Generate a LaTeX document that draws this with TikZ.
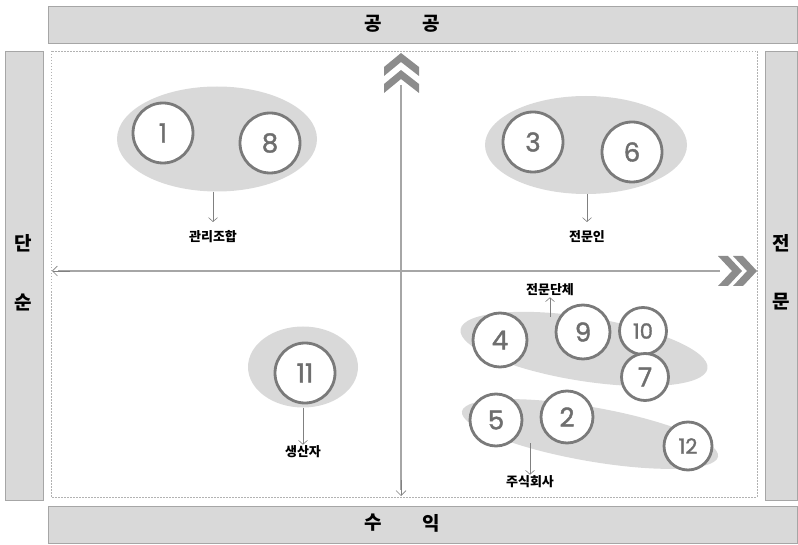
\documentclass[tikz,border=0pt]{standalone}
\usepackage{fontspec}
\setmainfont{Noto Sans CJK KR}
\newfontfamily\numfont{Poppins}[UprightFeatures={FakeBold=1.5}]
\usetikzlibrary{shapes.geometric,arrows.meta}
\definecolor{barfill}{HTML}{D9D9D9}
\definecolor{barline}{HTML}{A6A6A6}
\definecolor{ellfill}{HTML}{D9D9D9}
\definecolor{ringc}{HTML}{7A7A7A}
\definecolor{numc}{HTML}{6E6E6E}
\definecolor{axisc}{HTML}{A6A6A6}
\definecolor{chevc}{HTML}{8C8C8C}
\tikzset{
  bar/.style={fill=barfill,draw=barline,line width=0.8pt},
  bartext/.style={font=\bfseries\fontsize{19}{20}\selectfont,inner sep=0pt},
  group/.style={ellipse,fill=ellfill,draw=none,inner sep=0pt},
  num/.style={circle,fill=white,draw=ringc,line width=2.8pt,text=numc,inner sep=0pt,font=\numfont\fontsize{26}{26}\selectfont},
  numsmall/.style={font=\numfont\fontsize{21}{21}\selectfont},
  lbl/.style={font=\bfseries\fontsize{13}{13}\selectfont,inner sep=1pt},
  thin/.style={draw=gray,line width=0.6pt,-{Straight Barb[length=4pt,width=9pt]}},
  axis/.style={draw=axisc,line width=1.8pt},
  chev/.style={fill=chevc,draw=none}
}
\begin{document}
\begin{tikzpicture}[x=1pt,y=-1pt]
\useasboundingbox (0,0) rectangle (798,545);
% bars
\draw[bar] (48,6) rectangle (797,43);
\draw[bar] (48,506) rectangle (797,543);
\draw[bar] (5,51) rectangle (43,500);
\draw[bar] (765,51) rectangle (797,500);
\node[bartext] (t1) at (373,24) {공};
\node[bartext] (t2) at (431,24) {공};
\node[bartext] (b1) at (373,523) {수};
\node[bartext] (b2) at (431,523) {익};
\node[bartext] (l1) at (23,243) {단};
\node[bartext] (l2) at (23,302) {순};
\node[bartext] (r1) at (781,243) {전};
\node[bartext] (r2) at (781,302) {문};
% frame
\draw[gray!60,dashed,dash pattern=on 1.5pt off 1.5pt,line width=0.6pt] (51,51) rectangle (757,497);
% axes
\coordinate (vtop) at (401,85);
\coordinate (vbot) at (401,496);
\coordinate (hright) at (720,271);
\coordinate (hleft) at (52,271);
\draw[axis] (vtop) -- (401,490);
\draw[gray,line width=0.7pt,-{Straight Barb[length=5pt,width=10pt]}] (401,480) -- (vbot);
\draw[axis] (hright) -- (58,271);
\draw[gray,line width=0.7pt,-{Straight Barb[length=5pt,width=10pt]}] (70,271) -- (hleft);
% up chevrons
\foreach \dy in {0,17} {
  \fill[chev] (401,53+\dy) -- (419,67+\dy) -- (419,76+\dy) -- (401,62+\dy) -- (384,76+\dy) -- (384,67+\dy) -- cycle;
}
% right chevrons
\foreach \dx in {0,15} {
  \fill[chev] (718+\dx,256) -- (728+\dx,256) -- (742+\dx,271) -- (728+\dx,286) -- (718+\dx,286) -- (732+\dx,271) -- cycle;
}
% groups
\node[group,minimum width=200pt,minimum height=105pt] (g1) at (217,139) {};
\node[group,minimum width=202pt,minimum height=98pt] (g2) at (586,145) {};
\node[group,minimum width=250pt,minimum height=64pt,rotate=-9] (g3) at (584,349) {};
\node[group,minimum width=260pt,minimum height=54pt,rotate=-10] (g4) at (590,434) {};
\node[group,minimum width=110pt,minimum height=81pt] (g5) at (303,367) {};
% circles
\node[num,minimum size=60pt] (n1) at (163,133) {1};
\node[num,minimum size=60pt] (n8) at (270,143) {8};
\node[num,minimum size=60pt] (n3) at (533,142) {3};
\node[num,minimum size=60pt] (n6) at (632,152) {6};
\node[num,minimum size=54pt] (n4) at (500,340) {4};
\node[num,minimum size=54pt] (n9) at (583,332) {9};
\node[num,numsmall,minimum size=47pt] (n10) at (643,331) {10};
\node[num,minimum size=47pt] (n7) at (645,377) {7};
\node[num,minimum size=52pt] (n5) at (496,420) {5};
\node[num,minimum size=52pt] (n2) at (567,417) {2};
\node[num,numsmall,minimum size=48pt] (n12) at (688,446) {12};
\node[num,minimum size=60pt] (n11) at (305,373) {11};
% labels
\node[lbl] (L1) at (213,237) {관리조합};
\node[lbl] (L2) at (587,237) {전문인};
\node[lbl] (L3) at (550,290) {전문단체};
\node[lbl] (L4) at (530,482) {주식회사};
\node[lbl] (L5) at (303,452) {생산자};
\coordinate (a3) at (550,317);
\coordinate (a4) at (530,443);
% arrows
\draw[thin] (g1.south) ++(-4,0) coordinate (s1) -- (213,222);
\draw[thin] (g2.south) ++(1,0) coordinate (s2) -- (587,222);
\draw[thin] (a3) -- (L3.south);
\draw[thin] (a4) -- (L4.north);
\draw[thin] (g5.south) -- (L5.north);
\end{tikzpicture}
\end{document}
